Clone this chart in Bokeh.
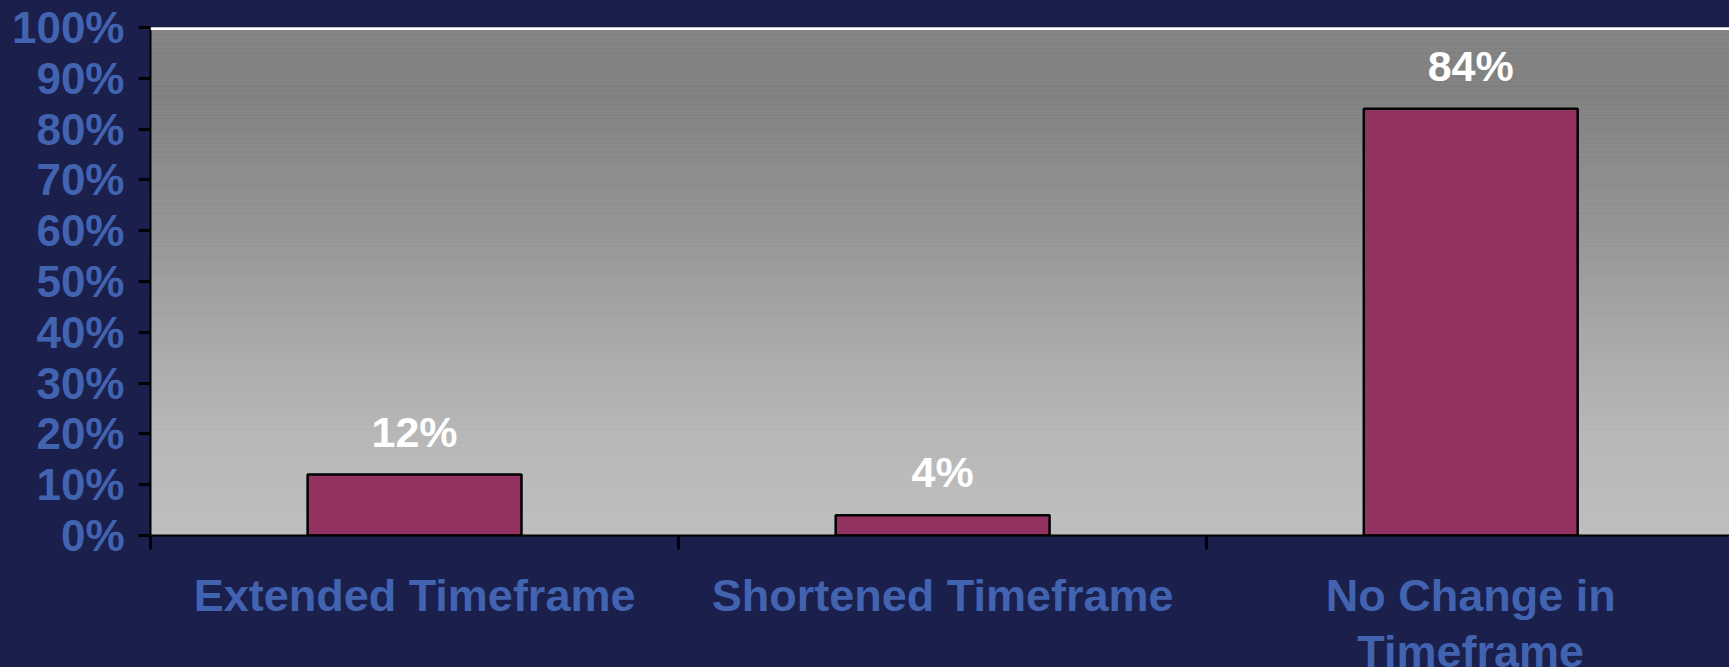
import numpy as np
from bokeh.plotting import figure
from bokeh.models import (Range1d, FixedTicker, NumeralTickFormatter, ColumnDataSource,
                          LabelSet, Span, LinearAxis, GlobalInlineStyleSheet)
from bokeh.core.properties import value
from bokeh.embed import file_html
from bokeh.resources import INLINE

categories = ["Extended Timeframe", "Shortened Timeframe", "No Change in\nTimeframe"]
values = [0.12, 0.04, 0.84]
value_labels = ["12%", "4%", "84%"]
y_ticks = [0.0, 0.1, 0.2, 0.3, 0.4, 0.5, 0.6, 0.7, 0.8, 0.9, 1.0]

NAVY = "#1a1f4c"
BLUE = "#4263b0"
BAR = "#943262"
FONT = "Liberation Sans"

W, H = 1729, 700
p = figure(width=W, height=H, output_backend="svg", toolbar_location=None,
           x_range=Range1d(0, 2.99), y_range=Range1d(0, 1.0),
           min_border_left=150, min_border_top=27, min_border_bottom=165, min_border_right=0,
           background_fill_color="#bbbbbb", border_fill_color=NAVY, outline_line_color=None,
           stylesheets=[GlobalInlineStyleSheet(
               css="html,body{background:%s;overflow:hidden;}" % NAVY)])
p.grid.visible = False

# background gradient (styling) as thin strips
stops_v = [0.0, 0.2, 0.4, 0.6, 0.88, 1.0]
stops_c = [0xbf, 0xb8, 0xa8, 0x95, 0x80, 0x84]
edges = np.linspace(0, 1, 201)
mids = (edges[:-1] + edges[1:]) / 2
grays = np.interp(mids, stops_v, stops_c).round().astype(int)
cols = ["#%02x%02x%02x" % (g, g, g) for g in grays]
p.quad(left=-1, right=4, bottom=edges[:-1], top=edges[1:], fill_color=cols, line_color=cols,
       line_width=0.5)

xs = [i + 0.5 for i in range(len(categories))]
src = ColumnDataSource(dict(x=xs, top=values, lab=value_labels))
p.vbar(x="x", top="top", width=0.405, source=src, fill_color=BAR, line_color="black",
       line_width=2.5)

p.add_layout(Span(location=1.0, dimension="width", line_color="white", line_width=5))

# y axis
ya = p.yaxis[0]
ya.ticker = FixedTicker(ticks=y_ticks)
ya.formatter = NumeralTickFormatter(format="0%")
ya.axis_line_color = "black"
ya.axis_line_width = 2
ya.major_tick_line_color = "black"
ya.major_tick_line_width = 3
ya.major_tick_out = 12
ya.major_tick_in = 0
ya.minor_tick_line_color = None
ya.major_label_standoff = 14
ya.major_label_text_font = FONT
ya.major_label_text_font_style = "bold"
ya.major_label_text_font_size = "44px"
ya.major_label_text_color = BLUE

# x axis: ticks at category boundaries
xa = p.xaxis[0]
xa.ticker = FixedTicker(ticks=list(range(len(categories) + 1)))
xa.axis_line_color = "black"
xa.axis_line_width = 2
xa.major_tick_line_color = "black"
xa.major_tick_line_width = 3
xa.major_tick_out = 14
xa.major_tick_in = 0
xa.minor_tick_line_color = None
xa.major_label_standoff = 0
xa.major_label_overrides = {t: "" for t in range(len(categories) + 1)}
xa.major_label_text_font_size = "1px"

# category labels on a second axis
cat_axis = LinearAxis(ticker=FixedTicker(ticks=xs),
                      major_label_overrides={x: c for x, c in zip(xs, categories)},
                      axis_line_color=None, major_tick_line_color=None,
                      minor_tick_line_color=None, major_tick_out=0, major_tick_in=0,
                      major_label_standoff=20, major_label_text_font=FONT,
                      major_label_text_font_style="bold", major_label_text_font_size="45px",
                      major_label_text_color=BLUE, major_label_text_line_height=1.1)
p.add_layout(cat_axis, "below")

p.add_layout(LabelSet(x="x", y="top", text="lab", source=src, y_offset=28,
                      text_align="center", text_baseline="alphabetic",
                      text_font=value(FONT), text_font_style="bold",
                      text_font_size="43px", text_color="white"))

open("out.html", "w").write(file_html(p, INLINE))
